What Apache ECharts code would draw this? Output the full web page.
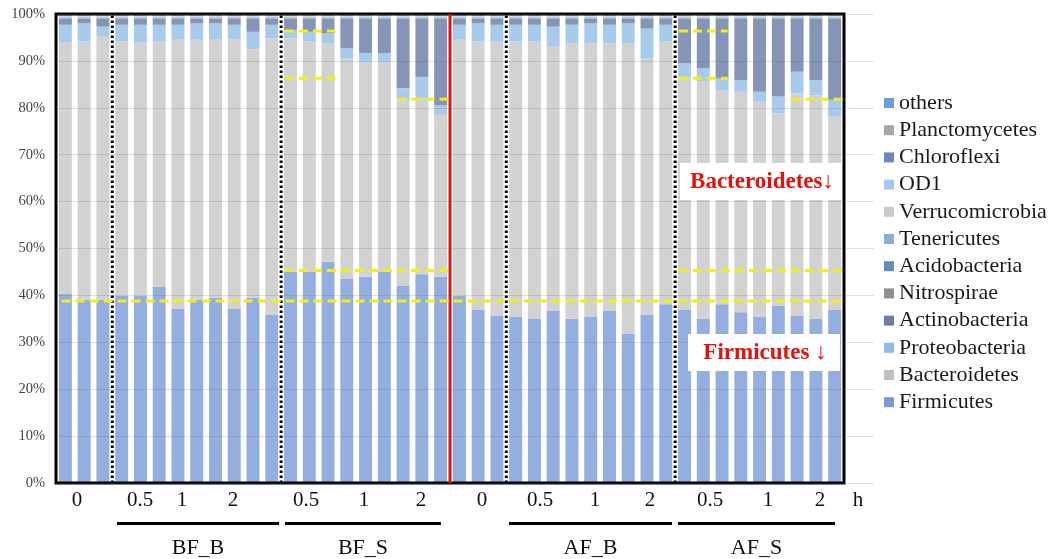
<!DOCTYPE html>
<html>
<head>
<meta charset="utf-8">
<script src="https://cdn.jsdelivr.net/npm/echarts@6/dist/echarts.min.js"></script>
<style>
html,body{margin:0;padding:0;background:#fff;}
#chart{width:1058px;height:559px;}
</style>
</head>
<body>
<div id="chart"></div>
<script>
// ---------------- data ----------------
const categories = [
  'C0-1','C0-2','C0-3',
  'BF_B-0.5-1','BF_B-0.5-2','BF_B-0.5-3','BF_B-1-1','BF_B-1-2','BF_B-1-3','BF_B-2-1','BF_B-2-2','BF_B-2-3',
  'BF_S-0.5-1','BF_S-0.5-2','BF_S-0.5-3','BF_S-1-1','BF_S-1-2','BF_S-1-3','BF_S-2-1','BF_S-2-2','BF_S-2-3',
  'A0-1','A0-2','A0-3',
  'AF_B-0.5-1','AF_B-0.5-2','AF_B-0.5-3','AF_B-1-1','AF_B-1-2','AF_B-1-3','AF_B-2-1','AF_B-2-2','AF_B-2-3',
  'AF_S-0.5-1','AF_S-0.5-2','AF_S-0.5-3','AF_S-1-1','AF_S-1-2','AF_S-1-3','AF_S-2-1','AF_S-2-2','AF_S-2-3'
];

const firmicutes = [40.4,39.0,39.0, 39.9,39.9,41.9, 37.2,39.0,39.5, 37.1,39.5,35.8, 45.1,45.0,47.2, 43.5,44.0,45.1, 42.1,44.5,44.0,
                    39.9,36.9,35.7, 35.5,35.1,36.7, 35.0,35.5,36.7, 31.9,35.8,38.1, 36.9,35.1,38.1, 36.4,35.5,37.8, 35.7,35.0,36.9];
const bacteroidetes = [53.5,55.1,56.3, 54.2,54.0,52.2, 57.3,55.5,55.1, 57.5,53.0,59.0, 49.7,49.1,46.5, 47.0,45.8,44.7, 39.6,37.5,34.5,
                       54.6,57.2,58.4, 58.6,59.0,56.3, 58.7,58.2,57.0, 61.8,54.7,56.0, 49.7,50.5,45.7, 47.0,45.8,41.0, 47.4,47.7,41.2];
const proteobacteria = [3.8,3.9,2.0, 3.6,3.8,3.6, 3.2,3.5,3.4, 3.1,3.7,2.9, 1.8,2.1,2.2, 2.2,1.9,1.9, 2.5,4.6,2.1,
                        3.2,3.9,3.6, 3.6,3.6,4.3, 4.0,4.3,4.0, 4.3,6.4,3.6, 2.9,2.8,2.5, 2.5,2.1,3.6, 4.6,3.2,3.6];
const actinobacteria = [1.3,1.0,1.7, 1.3,1.3,1.3, 1.3,1.0,1.0, 1.3,2.8,1.3, 2.4,2.8,3.1, 6.3,7.3,7.3, 14.8,12.4,18.4,
                        1.3,1.0,1.3, 1.3,1.3,1.7, 1.3,1.0,1.3, 1.0,2.1,1.3, 9.5,10.6,12.7, 13.1,15.6,16.6, 11.3,13.1,17.3];
const nitrospirae = [0.1,0.1,0.1, 0.1,0.1,0.1, 0.1,0.1,0.1, 0.1,0.1,0.1, 0.1,0.1,0.1, 0.1,0.1,0.1, 0.1,0.1,0.1,
                     0.1,0.1,0.1, 0.1,0.1,0.1, 0.1,0.1,0.1, 0.1,0.1,0.1, 0.1,0.1,0.1, 0.1,0.1,0.1, 0.1,0.1,0.1];
const acidobacteria = [0.1,0.1,0.1, 0.1,0.1,0.1, 0.1,0.1,0.1, 0.1,0.1,0.1, 0.1,0.1,0.1, 0.1,0.1,0.1, 0.1,0.1,0.1,
                       0.1,0.1,0.1, 0.1,0.1,0.1, 0.1,0.1,0.1, 0.1,0.1,0.1, 0.1,0.1,0.1, 0.1,0.1,0.1, 0.1,0.1,0.1];
const tenericutes = [0.15,0.15,0.15, 0.15,0.15,0.15, 0.15,0.15,0.15, 0.15,0.15,0.15, 0.15,0.15,0.15, 0.15,0.15,0.15, 0.15,0.15,0.15,
                     0.15,0.15,0.15, 0.15,0.15,0.15, 0.15,0.15,0.15, 0.15,0.15,0.15, 0.15,0.15,0.15, 0.15,0.15,0.15, 0.15,0.15,0.15];
const verrucomicrobia = [0.2,0.2,0.2, 0.2,0.2,0.2, 0.2,0.2,0.2, 0.2,0.2,0.2, 0.2,0.2,0.2, 0.2,0.2,0.2, 0.2,0.2,0.2,
                         0.2,0.2,0.2, 0.2,0.2,0.2, 0.2,0.2,0.2, 0.2,0.2,0.2, 0.2,0.2,0.2, 0.2,0.2,0.2, 0.2,0.2,0.2];
const od1 = [0.15,0.15,0.15, 0.15,0.15,0.15, 0.15,0.15,0.15, 0.15,0.15,0.15, 0.15,0.15,0.15, 0.15,0.15,0.15, 0.15,0.15,0.15,
             0.15,0.15,0.15, 0.15,0.15,0.15, 0.15,0.15,0.15, 0.15,0.15,0.15, 0.15,0.15,0.15, 0.15,0.15,0.15, 0.15,0.15,0.15];
const chloroflexi = [0.1,0.1,0.1, 0.1,0.1,0.1, 0.1,0.1,0.1, 0.1,0.1,0.1, 0.1,0.1,0.1, 0.1,0.1,0.1, 0.1,0.1,0.1,
                     0.1,0.1,0.1, 0.1,0.1,0.1, 0.1,0.1,0.1, 0.1,0.1,0.1, 0.1,0.1,0.1, 0.1,0.1,0.1, 0.1,0.1,0.1];
const planctomycetes = [0.05,0.05,0.05, 0.05,0.05,0.05, 0.05,0.05,0.05, 0.05,0.05,0.05, 0.05,0.05,0.05, 0.05,0.05,0.05, 0.05,0.05,0.05,
                        0.05,0.05,0.05, 0.05,0.05,0.05, 0.05,0.05,0.05, 0.05,0.05,0.05, 0.05,0.05,0.05, 0.05,0.05,0.05, 0.05,0.05,0.05];
const others = [0.15,0.15,0.15, 0.15,0.15,0.15, 0.15,0.15,0.15, 0.15,0.15,0.15, 0.15,0.15,0.15, 0.15,0.15,0.15, 0.15,0.15,0.15,
                0.15,0.15,0.15, 0.15,0.15,0.15, 0.15,0.15,0.15, 0.15,0.15,0.15, 0.15,0.15,0.15, 0.15,0.15,0.15, 0.15,0.15,0.15];

const seriesNames = ['Firmicutes','Bacteroidetes','Proteobacteria','Actinobacteria','Nitrospirae','Acidobacteria',
                     'Tenericutes','Verrucomicrobia','OD1','Chloroflexi','Planctomycetes','others'];
const seriesValues = [firmicutes,bacteroidetes,proteobacteria,actinobacteria,nitrospirae,acidobacteria,
                      tenericutes,verrucomicrobia,od1,chloroflexi,planctomycetes,others];

// x tick labels (time, h) and group labels
const timeLabels = ['0','0.5','1','2','0.5','1','2','0','0.5','1','2','0.5','1','2','h'];
const groupLabels = ['BF_B','BF_S','AF_B','AF_S'];
// reference levels (percent) drawn as yellow dashed lines: [fromBar, toBar, value]
const refLevels = [
  [0.3, 42, 38.8],
  [12.2, 21, 45.3], [33.2, 42, 45.3],
  [12.2, 14.9, 96.4], [33.2, 35.8, 96.4],
  [12.2, 14.9, 86.3], [33.2, 35.8, 86.3],
  [18.2, 20.9, 81.8], [39.2, 42, 81.8]
];
const dividers = [3, 12, 24, 33];   // dotted separators (bar boundary index)
const phaseDivider = 21;            // red separator
const annotations = ['Bacteroidetes↓', 'Firmicutes ↓'];

// ---------------- styles ----------------
const barColors = {
  Firmicutes:'#94aee0', Bacteroidetes:'#d2d2d2', Proteobacteria:'#a9cbeb', Actinobacteria:'#8594b7',
  Nitrospirae:'#a0a0a0', Acidobacteria:'#7ea3cb', Tenericutes:'#a2b9e2', Verrucomicrobia:'#d8d8d8',
  OD1:'#b7d4f0', Chloroflexi:'#8497c8', Planctomycetes:'#b5b5b5', others:'#86b0dc'
};
const legendColors = {
  Firmicutes:'#7a9ad8', Bacteroidetes:'#bfbfbf', Proteobacteria:'#8cbce8', Actinobacteria:'#6f7ea8',
  Nitrospirae:'#8e8e8e', Acidobacteria:'#5f8fc0', Tenericutes:'#8eaadb', Verrucomicrobia:'#cbcbcb',
  OD1:'#a4c8ec', Chloroflexi:'#6f87c0', Planctomycetes:'#a6a6a6', others:'#6a9fd4'
};
const SERIF = '"Liberation Serif","Times New Roman",serif';

const chart = echarts.init(document.getElementById('chart'), null, {renderer:'canvas'});

const series = seriesNames.map((n, i) => ({
  name: n, type:'bar', stack:'total', data: seriesValues[i],
  xAxisIndex:0, yAxisIndex:0, barCategoryGap:'31%',
  itemStyle:{color: barColors[n]},
  emphasis:{disabled:true}, animation:false
}));

refLevels.forEach(r => series.push({
  type:'line', xAxisIndex:1, yAxisIndex:0, data:[[r[0], r[2]],[r[1], r[2]]],
  symbol:'none', z:6, silent:true, animation:false,
  lineStyle:{color:'#f2ee1a', width:3, type:[9,5]}
}));
dividers.forEach(d => series.push({
  type:'line', xAxisIndex:1, yAxisIndex:0, data:[[d,0],[d,100]],
  symbol:'none', z:5, silent:true, animation:false,
  lineStyle:{color:'#000', width:3, type:[2.5,2.5]}
}));
series.push({
  type:'line', xAxisIndex:1, yAxisIndex:0, data:[[phaseDivider,0],[phaseDivider,100]],
  symbol:'none', z:5, silent:true, animation:false,
  lineStyle:{color:'#e3120b', width:3}
});

const tickX = [77,140,182,233,306,364,421,482,540,595,650,710,768,820,858];
const graphic = [];
timeLabels.forEach((t, i) => graphic.push({
  type:'text', x: tickX[i], y: 500, style:{text:t, font:'21px '+SERIF, fill:'#111', textAlign:'center', textVerticalAlign:'middle'}
}));
const groupSpan = [[117,279],[285,441],[509,672],[678,835]];
groupLabels.forEach((g, i) => {
  graphic.push({type:'rect', shape:{x:groupSpan[i][0], y:522, width:groupSpan[i][1]-groupSpan[i][0], height:3}, style:{fill:'#000'}});
  graphic.push({type:'text', x:(groupSpan[i][0]+groupSpan[i][1])/2, y:548,
    style:{text:g, font:'22px '+SERIF, fill:'#111', textAlign:'center', textVerticalAlign:'middle'}});
});
graphic.push({type:'rect', shape:{x:680, y:163, width:162, height:37}, style:{fill:'#fff'}, z:10});
graphic.push({type:'text', x:762, y:182, z:11, style:{text:annotations[0], font:'bold 23px '+SERIF, fill:'#e3120b', textAlign:'center', textVerticalAlign:'middle'}});
graphic.push({type:'rect', shape:{x:688, y:334, width:152, height:37}, style:{fill:'#fff'}, z:10});
graphic.push({type:'text', x:765, y:353, z:11, style:{text:annotations[1], font:'bold 23px '+SERIF, fill:'#e3120b', textAlign:'center', textVerticalAlign:'middle'}});

chart.setOption({
  animation:false,
  grid:[
    {left:56, right:214, top:14, bottom:76, show:true, borderColor:'#000', borderWidth:3, backgroundColor:'transparent', z:3},
    {left:56, right:184, top:14, bottom:76, show:false, z:0}
  ],
  legend:{
    orient:'vertical', left:879, top:87, itemWidth:10, itemHeight:10, itemGap:5.2, icon:'rect',
    data: seriesNames.slice().reverse().map(n => ({name:n, itemStyle:{color:legendColors[n]}})),
    textStyle:{fontFamily:SERIF, fontSize:22, color:'#1a1a1a', lineHeight:22},
    selectedMode:false
  },
  xAxis:[
    {type:'category', gridIndex:0, data:categories, axisLine:{show:false}, axisTick:{show:false}, axisLabel:{show:false}, splitLine:{show:false}},
    {type:'value', gridIndex:0, min:0, max:42, show:false},
    {type:'value', gridIndex:1, min:0, max:1, axisLine:{show:false}, axisTick:{show:false}, axisLabel:{show:false}, splitLine:{show:false}}
  ],
  yAxis:[{
    type:'value', gridIndex:0, min:0, max:100, interval:10,
    axisLine:{show:false}, axisTick:{show:false},
    axisLabel:{formatter:'{value}%', fontFamily:SERIF, fontSize:14.5, color:'#444', margin:11},
    splitLine:{show:false}
  },{
    type:'value', gridIndex:1, min:0, max:100, interval:10, z:4,
    axisLine:{show:false}, axisTick:{show:false}, axisLabel:{show:false},
    splitLine:{lineStyle:{color:'rgba(110,110,110,0.22)', width:1}}
  }],
  series: series,
  graphic: graphic
});
</script>
</body>
</html>
